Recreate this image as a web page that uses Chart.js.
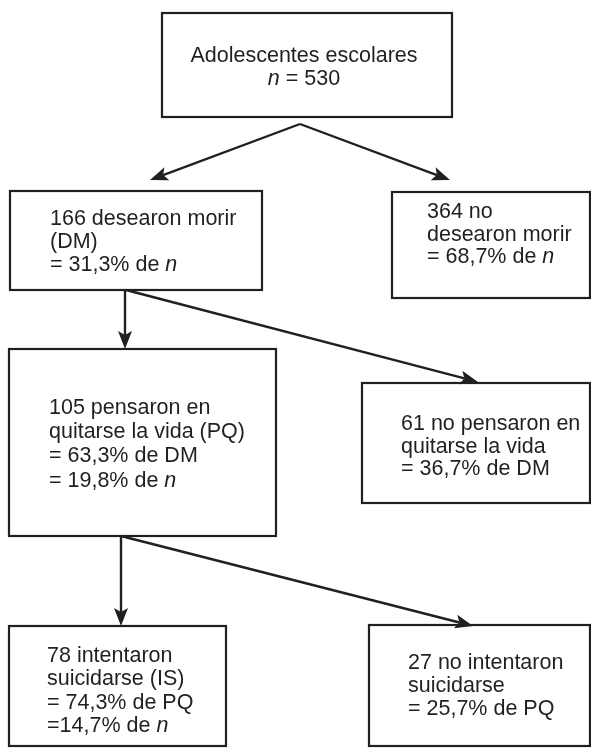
<!DOCTYPE html>
<html>
<head>
<meta charset="utf-8">
<script src="https://cdn.jsdelivr.net/npm/chart.js@4/dist/chart.umd.min.js"></script>
<style>
  html, body { margin: 0; padding: 0; background: #ffffff; }
  #wrap { width: 591px; height: 749px; }
</style>
</head>
<body>
<div id="wrap"><canvas id="c" width="591" height="749"></canvas></div>
<script>
// ---- DATA ----
const totalLabel = 'Adolescentes escolares';
const counts = [530, 166, 364, 105, 61, 78, 27];
const pctOfParent = [null, 31.3, 68.7, 63.3, 36.7, 74.3, 25.7];
const pctOfN = [null, null, null, 19.8, null, 14.7, null];
const parentAbbr = [null, 'n', 'n', 'DM', 'DM', 'PQ', 'PQ'];
const edges = [[0, 1], [0, 2], [1, 3], [1, 4], [3, 5], [3, 6]];

// ---- LAYOUT (drawing space 0..591 x 0..749) ----
const boxes = [
  { x0: 162, y0: 13,  x1: 452, y1: 117, tx: 304, b: 62,  lh: 23,   center: true },
  { x0: 10,  y0: 191, x1: 262, y1: 290, tx: 50,  b: 225, lh: 23 },
  { x0: 392, y0: 192, x1: 590, y1: 298, tx: 427, b: 218, lh: 22.5 },
  { x0: 9,   y0: 349, x1: 276, y1: 536, tx: 49,  b: 414, lh: 24.2 },
  { x0: 362, y0: 383, x1: 590, y1: 503, tx: 401, b: 430, lh: 22.5 },
  { x0: 9,   y0: 626, x1: 226, y1: 746, tx: 47,  b: 662, lh: 23.3 },
  { x0: 369, y0: 625, x1: 590, y1: 746, tx: 408, b: 669, lh: 23 }
];
const arrowPaths = [
  [300, 124, 150, 180],
  [300, 124, 450, 180],
  [125, 290, 125, 349],
  [126, 290, 478, 382],
  [121, 536, 121, 626],
  [121, 536, 473, 626]
];

const INK = '#231f20';
const FONT = '"Liberation Sans", Arial, Helvetica, sans-serif';
const FSIZE = 21.5;

const fmt = v => v.toFixed(1).replace('.', ',') + '%';
const N = [['n', true]];
const ref = abbr => abbr === 'n' ? N : [[abbr, false]];

function nodeLines(i) {
  const c = counts[i];
  switch (i) {
    case 0: return [[[totalLabel, false]], [['n', true], [' = ' + c, false]]];
    case 1: return [[[c + ' desearon morir', false]], [['(DM)', false]], [['= ' + fmt(pctOfParent[i]) + ' de ', false], ...ref(parentAbbr[i])]];
    case 2: return [[[c + ' no', false]], [['desearon morir', false]], [['= ' + fmt(pctOfParent[i]) + ' de ', false], ...ref(parentAbbr[i])]];
    case 3: return [[[c + ' pensaron en', false]], [['quitarse la vida (PQ)', false]], [['= ' + fmt(pctOfParent[i]) + ' de ', false], ...ref(parentAbbr[i])], [['= ' + fmt(pctOfN[i]) + ' de ', false], ...N]];
    case 4: return [[[c + ' no pensaron en', false]], [['quitarse la vida', false]], [['= ' + fmt(pctOfParent[i]) + ' de ', false], ...ref(parentAbbr[i])]];
    case 5: return [[[c + ' intentaron', false]], [['suicidarse (IS)', false]], [['= ' + fmt(pctOfParent[i]) + ' de ', false], ...ref(parentAbbr[i])], [['=' + fmt(pctOfN[i]) + ' de ', false], ...N]];
    case 6: return [[[c + ' no intentaron', false]], [['suicidarse', false]], [['= ' + fmt(pctOfParent[i]) + ' de ', false], ...ref(parentAbbr[i])]];
  }
}

const flowPlugin = {
  id: 'flow',
  afterDraw(chart) {
    const ctx = chart.ctx;
    const xs = chart.scales.x, ys = chart.scales.y;
    const px = v => xs.getPixelForValue(v);
    const py = v => ys.getPixelForValue(v);
    ctx.save();
    ctx.strokeStyle = INK;
    ctx.fillStyle = INK;
    ctx.lineJoin = 'miter';

    // boxes
    ctx.lineWidth = 2.2;
    boxes.forEach(bx => {
      ctx.strokeRect(px(bx.x0), py(bx.y0), px(bx.x1) - px(bx.x0), py(bx.y1) - py(bx.y0));
    });

    // arrows
    ctx.lineWidth = 2.4;
    edges.forEach((e, k) => {
      const [x1, y1, x2, y2] = arrowPaths[k];
      const ax = px(x1), ay = py(y1), bxp = px(x2), byp = py(y2);
      const ang = Math.atan2(byp - ay, bxp - ax);
      const L = 18, W = 7, notch = 4;
      const cos = Math.cos(ang), sin = Math.sin(ang);
      ctx.beginPath();
      ctx.moveTo(ax, ay);
      ctx.lineTo(bxp - cos * (L - notch), byp - sin * (L - notch));
      ctx.stroke();
      ctx.beginPath();
      ctx.moveTo(bxp, byp);
      ctx.lineTo(bxp - cos * L - sin * W, byp - sin * L + cos * W);
      ctx.lineTo(bxp - cos * (L - notch), byp - sin * (L - notch));
      ctx.lineTo(bxp - cos * L + sin * W, byp - sin * L - cos * W);
      ctx.closePath();
      ctx.fill();
    });

    // text
    ctx.textBaseline = 'alphabetic';
    ctx.textAlign = 'left';
    boxes.forEach((bx, i) => {
      const lines = nodeLines(i);
      lines.forEach((segs, li) => {
        const y = py(bx.b + li * bx.lh);
        let w = 0;
        segs.forEach(([t, it]) => {
          ctx.font = (it ? 'italic ' : '') + FSIZE + 'px ' + FONT;
          w += ctx.measureText(t).width;
        });
        let x = bx.center ? px(bx.tx) - w / 2 : px(bx.tx);
        segs.forEach(([t, it]) => {
          ctx.font = (it ? 'italic ' : '') + FSIZE + 'px ' + FONT;
          ctx.fillText(t, x, y);
          x += ctx.measureText(t).width;
        });
      });
    });
    ctx.restore();
  }
};

new Chart(document.getElementById('c'), {
  type: 'scatter',
  data: {
    datasets: [{
      data: boxes.map((bx, i) => ({ x: (bx.x0 + bx.x1) / 2, y: (bx.y0 + bx.y1) / 2, v: counts[i] })),
      pointRadius: 0,
      pointHoverRadius: 0
    }]
  },
  options: {
    responsive: false,
    devicePixelRatio: 1,
    animation: false,
    layout: { padding: 0 },
    plugins: { legend: { display: false }, tooltip: { enabled: false } },
    scales: {
      x: { type: 'linear', min: 0, max: 591, display: false },
      y: { type: 'linear', min: 0, max: 749, reverse: true, display: false }
    }
  },
  plugins: [flowPlugin]
});
</script>
</body>
</html>
